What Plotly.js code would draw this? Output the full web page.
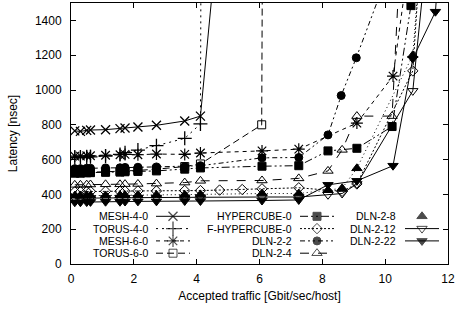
<!DOCTYPE html>
<html>
<head>
<meta charset="utf-8">
<script src="https://cdn.plot.ly/plotly-3.0.1.min.js"></script>
<style>html,body{margin:0;padding:0;background:#fff;}#chart{width:472px;height:310px;}</style>
</head>
<body>
<div id="chart"></div>
<script>
// ---- data ----
const xLow = [0.12, 0.3, 0.5, 0.62, 1.1, 1.56, 1.72, 2.13, 2.72, 3.62, 4.12];

const mesh40X = xLow.concat([4.62]);
const mesh40Y = [765, 762, 768, 770, 772, 778, 782, 787, 797, 822, 850, 1800];

const torus40X = xLow.concat([4.16]);
const torus40Y = [612, 612, 614, 616, 620, 630, 640, 655, 680, 722, 805, 3000];

const mesh60X = xLow.concat([6.08, 7.25, 9.1, 10.25, 10.8]);
const mesh60Y = [620, 620, 622, 622, 625, 628, 630, 628, 632, 630, 638, 650, 660, 810, 1080, 1800];

const torus60X = xLow.concat([6.07, 6.12]);
const torus60Y = [525, 525, 527, 528, 530, 532, 535, 538, 545, 560, 575, 800, 3000];

const hyperX = xLow.concat([6.08, 7.25, 8.18, 9.1, 10.22, 10.82, 11.2]);
const hyperY = [522, 522, 524, 525, 527, 528, 530, 532, 535, 545, 552, 562, 565, 650, 665, 790, 1485, 3000];

const fhyperX = xLow.concat([4.73, 5.45, 6.08, 7.25, 8.63, 9.1, 10.88, 11.2]);
const fhyperY = [415, 415, 416, 417, 418, 418, 419, 420, 420, 422, 422, 425, 428, 432, 438, 418, 460, 1110, 2000];

const dln22X = xLow.concat([6.08, 7.25, 8.18, 8.6, 9.08, 10.25]);
const dln22Y = [548, 548, 550, 550, 552, 553, 555, 556, 558, 560, 565, 610, 612, 742, 968, 1185, 1750];

const dln24X = xLow.concat([6.08, 7.25, 8.18, 8.63, 9.1, 10.22, 10.6]);
const dln24Y = [455, 455, 456, 457, 458, 458, 459, 460, 462, 468, 478, 480, 492, 535, 656, 850, 850, 2200];

const dln28X = xLow.concat([6.08, 7.25, 8.18, 8.63, 9.1, 10.88, 11.3]);
const dln28Y = [392, 392, 393, 393, 394, 395, 395, 396, 397, 398, 400, 405, 405, 425, 435, 550, 1200, 2200];

const dln212X = xLow.concat([6.08, 7.25, 8.18, 8.63, 9.1, 10.88, 11.3]);
const dln212Y = [378, 378, 379, 379, 380, 380, 381, 381, 382, 383, 384, 385, 385, 398, 405, 460, 995, 1750];

const dln222X = xLow.concat([6.08, 7.25, 8.18, 9.1, 10.25, 10.88, 11.6, 11.9]);
const dln222Y = [355, 355, 356, 357, 358, 358, 359, 360, 360, 362, 362, 365, 368, 455, 478, 565, 1180, 1450, 2200];

const seriesNames = ['MESH-4-0', 'TORUS-4-0', 'MESH-6-0', 'TORUS-6-0', 'HYPERCUBE-0', 'F-HYPERCUBE-0',
                     'DLN-2-2', 'DLN-2-4', 'DLN-2-8', 'DLN-2-12', 'DLN-2-22'];
const xTickVals = [0, 2, 4, 6, 8, 10, 12];
const yTickVals = [0, 200, 400, 600, 800, 1000, 1200, 1400];

// ---- styles ----
const seriesX = [mesh40X, torus40X, mesh60X, torus60X, hyperX, fhyperX, dln22X, dln24X, dln28X, dln212X, dln222X];
const seriesY = [mesh40Y, torus40Y, mesh60Y, torus60Y, hyperY, fhyperY, dln22Y, dln24Y, dln28Y, dln212Y, dln222Y];
const styles = [
  {sym: 'x-thin-open', size: 9, dash: 'solid', lw: 1.3},
  {sym: 'cross-thin-open', size: 10, dash: '2px,4px', lw: 1.3},
  {sym: 'asterisk-open', size: 10, dash: '4px,4px', lw: 1.2},
  {sym: 'square-open', size: 8, dash: '7px,4px', lw: 1},
  {sym: 'square', size: 8, dash: '8px,3px,2px,3px,2px,3px', lw: 1},
  {sym: 'diamond-open', size: 8, dash: '2px,2px', lw: 1},
  {sym: 'circle', size: 8, dash: '5px,3px,2px,3px,2px,3px', lw: 1},
  {sym: 'triangle-up-open', size: 9, dash: '9px,9px', lw: 1},
  {sym: 'triangle-up', size: 9, dash: '1px,3px', lw: 1},
  {sym: 'triangle-down-open', size: 9, dash: 'solid', lw: 1},
  {sym: 'triangle-down', size: 9, dash: 'solid', lw: 1}
];

const FONT = 'Liberation Sans, Arial, Helvetica, sans-serif';
const traces = [];
for (let i = 0; i < seriesNames.length; i++) {
  const s = styles[i];
  traces.push({
    x: seriesX[i], y: seriesY[i], name: seriesNames[i], type: 'scatter', mode: 'lines+markers',
    line: {color: '#000', width: 1, dash: s.dash},
    marker: {symbol: s.sym, size: s.size, color: '#000', line: {color: '#000', width: s.lw}},
    showlegend: false, hoverinfo: 'skip'
  });
}

// ---- key (gnuplot style: right-aligned text, then sample) in pixel coordinates of an overlay axis ----
const keyCols = [{textRight: 149, mid: 173}, {textRight: 293, mid: 317}, {textRight: 397, mid: 422}];
const keyRows = [216.3, 228.6, 240.9, 253.2];
const keyPlace = [[0,0],[0,1],[0,2],[0,3],[1,0],[1,1],[1,2],[1,3],[2,0],[2,1],[2,2]];
const half = 17;
const annotations = [];
for (let i = 0; i < seriesNames.length; i++) {
  const s = styles[i];
  const c = keyCols[keyPlace[i][0]];
  const r = keyRows[keyPlace[i][1]];
  traces.push({
    x: [c.mid - half, c.mid, c.mid + half], y: [r, r, r], xaxis: 'x2', yaxis: 'y2',
    type: 'scatter', mode: i === 8 ? 'markers' : 'lines+markers',
    line: {color: '#000', width: 1, dash: s.dash},
    marker: {symbol: s.sym, size: [0, s.size, 0], color: '#000', line: {color: '#000', width: s.lw}},
    showlegend: false, hoverinfo: 'skip'
  });
  annotations.push({
    x: c.textRight, y: r, xref: 'x2', yref: 'y2', xanchor: 'right', yanchor: 'middle',
    borderpad: 0, valign: 'middle',
    text: seriesNames[i], showarrow: false, font: {family: FONT, size: 10.5, color: '#000'}
  });
}

const axisCommon = {
  showline: true, linecolor: '#000', linewidth: 1, mirror: 'allticks',
  ticks: 'inside', ticklen: 5, tickcolor: '#000', tickwidth: 1,
  showgrid: false, zeroline: false,
  tickfont: {family: FONT, size: 12, color: '#000'}
};

const layout = {
  width: 472, height: 310,
  margin: {l: 71, r: 24, t: 3, b: 46},
  paper_bgcolor: '#fff', plot_bgcolor: '#fff',
  font: {family: FONT, size: 12, color: '#000'},
  showlegend: false,
  xaxis: Object.assign({}, axisCommon, {
    range: [0, 12], tickvals: xTickVals, ticktext: xTickVals.map(String),
    ticklabelstandoff: 4,
    title: {text: 'Accepted traffic [Gbit/sec/host]', font: {family: FONT, size: 12, color: '#000'}, standoff: 6}
  }),
  yaxis: Object.assign({}, axisCommon, {
    range: [0, 1500], tickvals: yTickVals, ticktext: yTickVals.map(String),
    ticklabelstandoff: 6,
    title: {text: 'Latency [nsec]', font: {family: FONT, size: 12, color: '#000'}, standoff: 14}
  }),
  xaxis2: {overlaying: 'x', range: [71, 448], visible: false, fixedrange: true},
  yaxis2: {overlaying: 'y', range: [264, 3], visible: false, fixedrange: true},
  annotations: annotations
};

Plotly.newPlot('chart', traces, layout, {staticPlot: true, displayModeBar: false});
</script>
</body>
</html>
